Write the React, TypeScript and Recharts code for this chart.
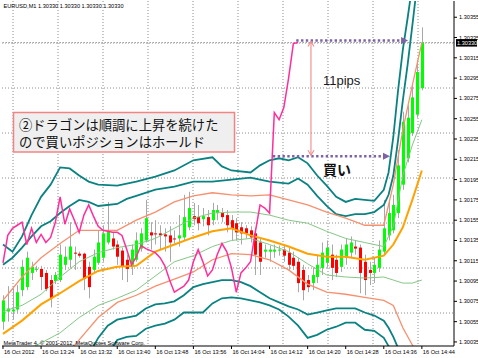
import React from "react";
import { ComposedChart, Bar, Line, XAxis, YAxis, CartesianGrid, ReferenceLine } from "recharts";

// EURUSD M1 candles, minute 0 = 16 Oct 13:16
const openPrices = [
  1.30055, 1.30065, 1.30065, 1.30067, 1.30086, 1.30089, 1.30103, 1.30106, 1.30107, 1.30103,
  1.30096, 1.30095, 1.30096, 1.30111, 1.30116, 1.30123, 1.30122, 1.30122, 1.30109, 1.30106,
  1.30113, 1.30118, 1.30133, 1.30137, 1.30131, 1.30125, 1.30116, 1.30111, 1.30116, 1.30127,
  1.30135, 1.30143, 1.30142, 1.30142, 1.30141, 1.3014, 1.30137, 1.30137, 1.30138, 1.30148,
  1.30159, 1.30158, 1.30156, 1.30158, 1.30155, 1.30162, 1.30162, 1.3016, 1.30155, 1.30152,
  1.30148, 1.30147, 1.30145, 1.30142, 1.30133, 1.30124, 1.30124, 1.30124, 1.30125, 1.30126,
  1.30123, 1.30118, 1.30114, 1.30106, 1.30096, 1.30093, 1.30099, 1.30108, 1.30113, 1.30121,
  1.30116, 1.30109, 1.30118, 1.30123, 1.30129, 1.30128, 1.30114, 1.30106, 1.30103, 1.30108,
  1.30124, 1.3014, 1.30145, 1.30162, 1.3019, 1.30216, 1.30241, 1.30259, 1.30285,
];
const closePrices = [
  1.30076, 1.30068, 1.30067, 1.30084, 1.30109, 1.30118, 1.30109, 1.30107, 1.30099, 1.30087,
  1.30078, 1.30101, 1.30121, 1.30119, 1.30129, 1.30122, 1.3012, 1.30097, 1.30089, 1.30119,
  1.30133, 1.30142, 1.30145, 1.30129, 1.30119, 1.30109, 1.30107, 1.30126, 1.30135, 1.30142,
  1.30157, 1.3014, 1.30141, 1.3014, 1.30139, 1.30133, 1.30136, 1.3014, 1.30158, 1.30167,
  1.30156, 1.30152, 1.30159, 1.3015, 1.30165, 1.30165, 1.30158, 1.3015, 1.30147, 1.30143,
  1.30142, 1.30142, 1.30138, 1.30121, 1.30114, 1.30126, 1.30126, 1.30126, 1.30126, 1.3012,
  1.30111, 1.3011, 1.30093, 1.30086, 1.30089, 1.30101, 1.30111, 1.30123, 1.30128, 1.30108,
  1.30103, 1.30126, 1.30131, 1.30133, 1.30127, 1.30103, 1.30096, 1.30103, 1.30111, 1.30126,
  1.30147, 1.30162, 1.3017, 1.30209, 1.30252, 1.30256, 1.30276, 1.30301, 1.3033,
];
const highPrices = [
  1.30081, 1.3009, 1.30088, 1.30091, 1.30116, 1.30124, 1.30114, 1.3011, 1.3011, 1.30106,
  1.30101, 1.30104, 1.30131, 1.30129, 1.30153, 1.30129, 1.30124, 1.30123, 1.30114, 1.30126,
  1.30145, 1.3015, 1.30173, 1.30143, 1.30135, 1.30128, 1.30121, 1.30131, 1.30143, 1.30147,
  1.30175, 1.30153, 1.30155, 1.3015, 1.30147, 1.30149, 1.30145, 1.3016, 1.3018, 1.30183,
  1.30172, 1.3017, 1.30167, 1.30165, 1.30172, 1.3017, 1.30167, 1.30165, 1.3016, 1.30157,
  1.30153, 1.3015, 1.30149, 1.30147, 1.30137, 1.30131, 1.3013, 1.30131, 1.3013, 1.30131,
  1.30128, 1.30124, 1.30118, 1.30111, 1.30101, 1.30108, 1.30121, 1.30133, 1.30135, 1.30131,
  1.30121, 1.30131, 1.30137, 1.30139, 1.30135, 1.30131, 1.30121, 1.30114, 1.30118, 1.30135,
  1.30175, 1.30175, 1.3018, 1.30224, 1.30262, 1.30268, 1.30288, 1.30313, 1.30345,
];
const lowPrices = [
  1.30047, 1.30055, 1.30057, 1.30063, 1.3008, 1.30086, 1.30096, 1.30104, 1.30086, 1.30085,
  1.30069, 1.30092, 1.30094, 1.30106, 1.30108, 1.30106, 1.30118, 1.30086, 1.30078, 1.30103,
  1.30111, 1.30114, 1.30131, 1.30126, 1.30111, 1.30096, 1.30094, 1.30101, 1.30114, 1.30124,
  1.30133, 1.30126, 1.30131, 1.30126, 1.30124, 1.30114, 1.30132, 1.30129, 1.30135, 1.30145,
  1.3015, 1.30145, 1.30149, 1.3014, 1.3015, 1.30155, 1.30153, 1.30143, 1.30135, 1.30135,
  1.30131, 1.30137, 1.30133, 1.30101, 1.30101, 1.30118, 1.30114, 1.30118, 1.3012, 1.30114,
  1.30106, 1.30106, 1.30084, 1.30076, 1.30084, 1.30086, 1.30093, 1.30101, 1.30108, 1.30096,
  1.30099, 1.30104, 1.30111, 1.30118, 1.30121, 1.30083, 1.30081, 1.30091, 1.30093, 1.30104,
  1.30121, 1.30135, 1.30142, 1.30157, 1.30185, 1.30212, 1.30238, 1.30256, 1.30283,
];

// Band lines ("dragon") sampled at these minutes
const bandMinutes = [0, 4, 8, 12, 16, 20, 24, 28, 32, 36, 40, 44, 48, 52, 56, 60, 64, 68, 72, 76, 80, 82, 84, 86, 88];
const maCenter = [
  1.30043, 1.30056, 1.30072, 1.30083, 1.30095, 1.30105, 1.30109, 1.3011, 1.30124, 1.30131, 1.30138, 1.30144, 1.30147,
  1.3014, 1.30135, 1.30129, 1.30122, 1.30119, 1.30119, 1.30116, 1.3012, 1.30131, 1.30148, 1.30175, 1.30204,
];
const greenUpper = [
  1.30065, 1.30071, 1.30082, 1.30099, 1.30114, 1.30123, 1.30128, 1.30131, 1.30137, 1.30147, 1.30157, 1.30162, 1.30163,
  1.30163, 1.3016, 1.30155, 1.30152, 1.30144, 1.30137, 1.30133, 1.30129, 1.30149, 1.30199, 1.30229, 1.30254,
];
const greenLower = [
  1.30017, 1.30025, 1.30034, 1.30044, 1.30059, 1.30071, 1.30078, 1.30086, 1.301, 1.30114, 1.3012, 1.30129, 1.30135,
  1.30137, 1.30131, 1.30124, 1.30112, 1.30101, 1.30099, 1.30098, 1.30099, 1.30096, 1.30093, 1.30093, 1.30096,
];
const salmonUpper = [
  1.30076, 1.30099, 1.30118, 1.30132, 1.30145, 1.30145, 1.30145, 1.30155, 1.30163, 1.30173, 1.30179, 1.30182, 1.3018,
  1.30179, 1.3018, 1.30175, 1.3017, 1.30163, 1.30157, 1.3015, 1.3015, 1.3019, 1.30244, 1.30288, 1.3033,
];
const salmonLower = [
  1.29972, 1.29982, 1.29997, 1.30015, 1.30037, 1.30059, 1.30074, 1.30081, 1.3009, 1.30097, 1.30104, 1.30116, 1.30122,
  1.30121, 1.30116, 1.30106, 1.30092, 1.30084, 1.30082, 1.30079, 1.30076, 1.30071, 1.30049, 1.30032, 1.30015,
];

const tealOuterUpMinutes = [0, 2, 4, 6, 8, 10, 12, 14, 16, 18, 20, 24, 28, 32, 36, 40, 44, 46, 48, 52, 54, 56, 58, 60, 62, 64, 66, 68, 70, 72, 74, 76, 78, 80, 81, 82, 83, 84, 85, 86];
const tealOuterUp = [
  1.30131, 1.30124, 1.30139, 1.3016, 1.30178, 1.3019, 1.30207, 1.30206, 1.30199, 1.30193,
  1.3019, 1.30189, 1.30193, 1.30198, 1.30204, 1.30214, 1.30217, 1.30208, 1.30204, 1.30202,
  1.30209, 1.30214, 1.30216, 1.30214, 1.30217, 1.30211, 1.30199, 1.30189, 1.30178, 1.30173,
  1.30176, 1.30175, 1.30174, 1.30185, 1.30202, 1.30237, 1.30283, 1.30323, 1.30354, 1.30387,
];
const tealInnerUpMinutes = [0, 2, 4, 6, 8, 10, 12, 14, 16, 18, 20, 24, 26, 28, 32, 36, 40, 44, 48, 52, 56, 60, 62, 64, 66, 68, 70, 72, 74, 76, 78, 80, 81, 82, 83, 84, 85, 86, 87];
const tealInnerUp = [
  1.30111, 1.30118, 1.30128, 1.30139, 1.30149, 1.30154, 1.30162, 1.30169, 1.30175, 1.30173,
  1.30169, 1.30171, 1.30176, 1.30179, 1.30185, 1.30188, 1.30193, 1.30193, 1.30195, 1.30197,
  1.30193, 1.30191, 1.30196, 1.3019, 1.30179, 1.30169, 1.30161, 1.30159, 1.30161, 1.30161,
  1.30163, 1.3017, 1.3018, 1.30199, 1.30234, 1.30273, 1.30308, 1.30347, 1.30387,
];
const tealInnerDnMinutes = [0, 8, 16, 18, 20, 22, 24, 26, 28, 30, 32, 34, 36, 38, 40, 42, 44, 46, 48, 50, 52, 54, 56, 58, 60, 62, 64, 66, 68, 70, 72, 74, 76, 78, 80, 81, 82, 83, 84];
const tealInnerDn = [
  1.29977, 1.29992, 1.30012, 1.30022, 1.30039, 1.30051, 1.30057, 1.30059, 1.30061, 1.30068,
  1.30072, 1.30073, 1.30075, 1.30081, 1.30089, 1.30092, 1.30094, 1.30096, 1.30096, 1.30094,
  1.3009, 1.30084, 1.30078, 1.30074, 1.3007, 1.30067, 1.30062, 1.30064, 1.30066, 1.30068,
  1.30068, 1.30068, 1.30064, 1.30061, 1.30056, 1.30049, 1.3004, 1.30029, 1.30012,
];
const tealOuterDnMinutes = [0, 8, 16, 20, 22, 24, 26, 28, 30, 32, 34, 36, 38, 40, 42, 44, 46, 48, 50, 52, 54, 56, 58, 60, 62, 64, 66, 68, 70, 72, 74, 76, 78, 80, 81, 82];
const tealOuterDn = [
  1.29937, 1.29957, 1.29987, 1.30007, 1.30022, 1.30037, 1.3004, 1.30041, 1.30048, 1.30051,
  1.30053, 1.30057, 1.30064, 1.30064, 1.30064, 1.30073, 1.30078, 1.30079, 1.30078, 1.30076,
  1.30074, 1.30071, 1.30067, 1.3006, 1.30051, 1.30039, 1.30042, 1.30047, 1.3005, 1.30054,
  1.30054, 1.30047, 1.30046, 1.30039, 1.30031, 1.30017,
];

// Pink oscillating line, one value per minute from minute 0
const pinkValues = [
  1.30113, 1.3014, 1.30147, 1.3015, 1.30153, 1.30131, 1.30147, 1.30133, 1.30141, 1.30133,
  1.30138, 1.30153, 1.30178, 1.30151, 1.30166, 1.30155, 1.30143, 1.3016, 1.3017, 1.30159,
  1.30149, 1.30145, 1.30144, 1.30143, 1.30143, 1.3014, 1.30126, 1.30111, 1.30119, 1.3013,
  1.30127, 1.30125, 1.30123, 1.30118, 1.3011, 1.30096, 1.30084, 1.30087, 1.3009, 1.30096,
  1.30114, 1.30126, 1.30114, 1.301, 1.30106, 1.30121, 1.30132, 1.30124, 1.30108, 1.30084,
  1.30103, 1.30108, 1.30114, 1.30143, 1.3017, 1.30167, 1.30162, 1.30261, 1.30254, 1.30266,
  1.30295, 1.30329, 1.3033,
];

const xTicks = [0, 8, 16, 24, 32, 40, 48, 56, 64, 72, 80, 88];
const xTickLabels = [
  "16 Oct 2012", "16 Oct 13:24", "16 Oct 13:32", "16 Oct 13:40", "16 Oct 13:48", "16 Oct 13:56",
  "16 Oct 14:04", "16 Oct 14:12", "16 Oct 14:20", "16 Oct 14:28", "16 Oct 14:36", "16 Oct 14:44",
];
const yTicks = [
  1.30035, 1.30055, 1.30075, 1.30095, 1.30115, 1.30135, 1.30155, 1.30175, 1.30195,
  1.30215, 1.30235, 1.30255, 1.30275, 1.30295, 1.30315, 1.30335, 1.30355,
];
const lastPrice = 1.3033;
const buyLevel = 1.30218;
const exitLevel = 1.30332;
const buyArrowMinutes = [56.7, 81.3];
const exitArrowMinutes = [61.6, 85.1];
const pipsArrowMinute = 64.7;

const candles = openPrices.map((o, i) => ({ m: i, o, c: closePrices[i], h: highPrices[i], l: lowPrices[i] }));
const rows = (ms: number[], vs: number[]) => ms.map((m, i) => ({ m, v: vs[i] }));
const pinkRows = pinkValues.map((v, i) => ({ m: i, v }));

const SMALL = "'Liberation Sans', Arial, sans-serif";
const JP = "'Noto Sans CJK JP', 'Noto Sans CJK SC', sans-serif";
const TEAL = "#0a8282";
const SALMON = "#f7906e";
const LGREEN = "#86c686";
const ORANGE = "#ffa200";
const PINK = "#ff2e9a";
const PURPLE = "#7d62a6";

const Candle = (props: any) => {
  const { x, y, width, height, payload } = props;
  if (x == null || y == null || !payload) return null;
  const top = Math.min(y, y + height);
  const span = Math.abs(height);
  const { o, c, h, l } = payload;
  const ratio = h - l > 0 ? span / (h - l) : 0;
  const yO = top + (h - o) * ratio;
  const yC = top + (h - c) * ratio;
  const cx = Math.round(x + width / 2) + 0.5;
  const bTop = Math.min(yO, yC);
  const bH = Math.max(Math.abs(yO - yC), 1);
  return (
    <g>
      <line x1={cx} x2={cx} y1={top} y2={top + span} stroke="#a8a8a8" strokeWidth={1} />
      <rect x={cx - 1.5} y={bTop} width={3} height={bH} fill={c >= o ? "#00ff00" : "#ff0000"} />
    </g>
  );
};

const XTick = (props: any) => {
  const { x, y, payload } = props;
  const idx = xTicks.indexOf(payload.value);
  return (
    <text x={x + 1} y={y + 2.5} fontSize={5.6} fill="#000" fontFamily={SMALL}>
      {idx >= 0 ? xTickLabels[idx] : ""}
    </text>
  );
};

const PriceTag = (props: any) => {
  const vb = props.viewBox;
  if (!vb) return null;
  const x = vb.x + vb.width + 2;
  const y = vb.y;
  return (
    <g>
      <rect x={x} y={y - 3.5} width={21} height={7.5} fill="#000" />
      <text x={x + 1} y={y + 2.2} fontSize={5.6} fill="#fff" fontFamily={SMALL}>
        {lastPrice.toFixed(5)}
      </text>
    </g>
  );
};

const DottedArrow = (props: any) => {
  const { x1, y1, x2, y2 } = props;
  if (x1 == null) return null;
  const head = 7;
  return (
    <g>
      <line x1={x1} y1={y1} x2={x2 - head} y2={y2} stroke={PURPLE} strokeWidth={2.6} strokeDasharray="2.4 2.4" />
      <polygon points={`${x2},${y2} ${x2 - head},${y2 - 3.6} ${x2 - head},${y2 + 3.6}`} fill={PURPLE} />
    </g>
  );
};

const PipsArrow = (props: any) => {
  const { x1, y1, y2 } = props;
  if (x1 == null) return null;
  const top = Math.min(y1, y2) + 1;
  const bot = Math.max(y1, y2) - 1;
  return (
    <g stroke="#f28a8a" strokeWidth={1.1} fill="none">
      <line x1={x1} y1={top} x2={x1} y2={bot} />
      <polyline points={`${x1 - 3},${top + 5} ${x1},${top} ${x1 + 3},${top + 5}`} />
      <polyline points={`${x1 - 3},${bot - 5} ${x1},${bot} ${x1 + 3},${bot - 5}`} />
    </g>
  );
};

const lineCommon = { type: "linear" as const, dot: false, activeDot: false, isAnimationActive: false, dataKey: "v" };

export default function App() {
  return (
    <div style={{ position: "relative", width: 478, height: 358, background: "#fff", overflow: "hidden" }}>
      <style>{`body{margin:0;background:#fff}`}</style>
      <ComposedChart width={478} height={358} data={candles} margin={{ top: 1, right: 0, bottom: 0, left: 2 }}>
        <CartesianGrid
          stroke="#8c8c8c"
          strokeDasharray="1 2"
          horizontalCoordinatesGenerator={({ offset }: any) => [0, 1, 2, 3, 4, 5, 6].map((i) => offset.top + 42 + 45 * i)}
          verticalCoordinatesGenerator={({ offset }: any) => [0, 1, 2, 3, 4, 5, 6, 7, 8, 9].map((i) => offset.left + 11 + 45 * i)}
        />
        <XAxis
          dataKey="m"
          type="number"
          domain={[-0.21, 94.75]}
          allowDataOverflow
          ticks={xTicks}
          interval={0}
          tick={<XTick />}
          tickSize={3}
          height={12}
          stroke="#000"
        />
        <XAxis xAxisId="top" orientation="top" type="number" domain={[0, 1]} height={0} tick={false} tickLine={false} stroke="#555" />
        <YAxis
          orientation="right"
          type="number"
          domain={[1.30031, 1.30371]}
          allowDataOverflow
          ticks={yTicks}
          interval={0}
          tickSize={3}
          width={24}
          stroke="#000"
          tick={{ fontSize: 5.6, fill: "#000", fontFamily: SMALL }}
          tickFormatter={(v: number) => v.toFixed(5)}
        />
        <YAxis yAxisId="left" orientation="left" type="number" domain={[0, 1]} width={0} tick={false} tickLine={false} stroke="#555" />

        <ReferenceLine y={lastPrice} stroke="#9a9a9a" strokeDasharray="1 2" label={<PriceTag />} />

        <Bar dataKey={(d: any) => [d.l, d.h]} barSize={3} shape={(p: any) => <Candle {...p} />} isAnimationActive={false} />

        <Line {...lineCommon} data={rows(tealOuterUpMinutes, tealOuterUp)} stroke={TEAL} strokeWidth={1.8} />
        <Line {...lineCommon} data={rows(tealInnerUpMinutes, tealInnerUp)} stroke={TEAL} strokeWidth={1.8} />
        <Line {...lineCommon} data={rows(tealInnerDnMinutes, tealInnerDn)} stroke={TEAL} strokeWidth={1.8} />
        <Line {...lineCommon} data={rows(tealOuterDnMinutes, tealOuterDn)} stroke={TEAL} strokeWidth={1.8} />
        <Line {...lineCommon} data={rows(bandMinutes, salmonUpper)} stroke={SALMON} strokeWidth={1.3} />
        <Line {...lineCommon} data={rows(bandMinutes, salmonLower)} stroke={SALMON} strokeWidth={1.3} />
        <Line {...lineCommon} data={rows(bandMinutes, greenUpper)} stroke={LGREEN} strokeWidth={1} />
        <Line {...lineCommon} data={rows(bandMinutes, greenLower)} stroke={LGREEN} strokeWidth={1} />
        <Line {...lineCommon} data={rows(bandMinutes, maCenter)} stroke={ORANGE} strokeWidth={2} />
        <Line {...lineCommon} data={pinkRows} stroke={PINK} strokeWidth={1.5} />

        <ReferenceLine
          segment={[{ x: exitArrowMinutes[0], y: exitLevel }, { x: exitArrowMinutes[1], y: exitLevel }]}
          shape={(p: any) => <DottedArrow {...p} />}
        />
        <ReferenceLine
          segment={[{ x: buyArrowMinutes[0], y: buyLevel }, { x: buyArrowMinutes[1], y: buyLevel }]}
          shape={(p: any) => <DottedArrow {...p} />}
        />
        <ReferenceLine
          segment={[{ x: pipsArrowMinute, y: exitLevel }, { x: pipsArrowMinute, y: buyLevel }]}
          shape={(p: any) => <PipsArrow {...p} />}
        />
      </ComposedChart>

      <svg width={478} height={358} style={{ position: "absolute", left: 0, top: 0, pointerEvents: "none" }}>
        <text x={3.5} y={8} fontSize={5.6} fill="#000" fontFamily={SMALL}>
          EURUSD,M1  1.30330 1.30330 1.30330 1.30330
        </text>
        <text x={3.5} y={344.5} fontSize={5.6} fill="#000" fontFamily={SMALL}>
          MetaTrader 4, © 2001-2012, MetaQuotes Software Corp.
        </text>
        <text x={323} y={84.5} fontSize={13} fill="#1a1a1a" fontFamily={SMALL}>
          11pips
        </text>
        <text x={323} y={174.5} fontSize={14} fontWeight={700} fill="#111" fontFamily={JP}>
          買い
        </text>
        <rect x={13.5} y={112.5} width={221} height={39.5} fill="#efefef" stroke="#f28484" strokeWidth={1.5} />
        <text x={19} y={130} fontSize={13.3} fill="#111" fontFamily={JP}>
          ②ドラゴンは順調に上昇を続けた
        </text>
        <text x={19} y={146.5} fontSize={13.3} fill="#111" fontFamily={JP}>
          ので買いポジションはホールド
        </text>
      </svg>
    </div>
  );
}
